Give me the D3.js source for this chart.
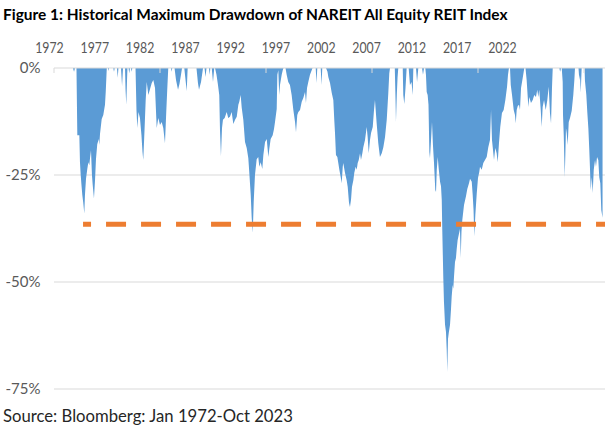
<!DOCTYPE html>
<html><head><meta charset="utf-8">
<script src="https://cdn.jsdelivr.net/npm/d3@7"></script>
<style>html,body{margin:0;padding:0;background:#fff;} svg{display:block;}</style>
</head><body>
<svg id="chart" width="605" height="439"></svg>
<script>
// decimal-year dates of the drawdown series
const dates = [
1972.00, 1973.79, 1973.89, 1973.98, 1974.12, 1974.20, 1974.39, 1974.45, 1974.52, 1974.59,
1974.67, 1974.76, 1974.86, 1974.92, 1975.02, 1975.14, 1975.24, 1975.33, 1975.40, 1975.49,
1975.58, 1975.65, 1975.77, 1975.87, 1975.96, 1976.08, 1976.22, 1976.27, 1976.34, 1976.50,
1976.65, 1976.81, 1976.88, 1976.93, 1976.98, 1977.09, 1977.14, 1977.19, 1977.59, 1977.66,
1977.73, 1977.94, 1978.01, 1978.08, 1978.32, 1978.42, 1978.51, 1978.70, 1978.75, 1978.82,
1978.89, 1978.93, 1979.03, 1979.10, 1979.17, 1979.26, 1979.33, 1979.39, 1979.69, 1979.78,
1979.86, 1979.97, 1980.11, 1980.25, 1980.35, 1980.42, 1980.54, 1980.65, 1980.75, 1980.90,
1981.06, 1981.22, 1981.37, 1981.53, 1981.69, 1981.84, 1982.00, 1982.16, 1982.31, 1982.47,
1982.59, 1982.69, 1982.78, 1983.04, 1983.10, 1983.16, 1983.37, 1983.51, 1983.70, 1983.84,
1983.98, 1984.08, 1984.29, 1984.41, 1984.52, 1984.61, 1985.44, 1985.58, 1985.68, 1985.87,
1986.06, 1986.20, 1986.29, 1986.39, 1986.62, 1986.69, 1986.75, 1986.88, 1987.00, 1987.12,
1987.19, 1987.33, 1987.47, 1987.59, 1987.66, 1987.75, 1987.85, 1987.94, 1988.10, 1988.29,
1988.44, 1988.60, 1988.76, 1988.92, 1989.08, 1989.24, 1989.39, 1989.48, 1989.61, 1989.71,
1989.86, 1990.02, 1990.18, 1990.33, 1990.42, 1990.56, 1990.65, 1990.75, 1990.84, 1990.96,
1991.12, 1991.27, 1991.37, 1991.50, 1991.65, 1991.75, 1991.91, 1992.07, 1992.22, 1992.31,
1992.44, 1992.63, 1992.75, 1992.85, 1993.01, 1993.07, 1993.16, 1993.25, 1993.32, 1993.48,
1993.58, 1993.65, 1993.84, 1993.95, 1994.10, 1994.26, 1994.42, 1994.58, 1994.74, 1994.83,
1994.95, 1995.05, 1995.21, 1995.37, 1995.52, 1995.68, 1995.77, 1995.87, 1995.99, 1996.15,
1996.31, 1996.39, 1996.69, 1996.76, 1996.84, 1997.16, 1997.24, 1997.31, 1997.66, 1997.80,
1997.88, 1998.04, 1998.20, 1998.35, 1998.44, 1998.51, 1998.60, 1998.73, 1998.82, 1998.92,
1999.05, 1999.14, 1999.24, 1999.29, 1999.45, 1999.61, 1999.71, 1999.83, 1999.92, 2000.02,
2000.11, 2000.24, 2000.33, 2000.46, 2000.56, 2000.65, 2000.75, 2000.87, 2000.96, 2001.09,
2001.18, 2001.34, 2001.50, 2001.59, 2001.69, 2001.81, 2001.91, 2002.07, 2002.19, 2002.28,
2002.44, 2002.59, 2002.75, 2002.92, 2003.07, 2003.23, 2003.39, 2003.54, 2003.63, 2003.70,
2004.15, 2004.22, 2004.26, 2004.34, 2004.41, 2004.48, 2004.90, 2004.95, 2005.05, 2005.16,
2005.27, 2005.46, 2005.58, 2005.73, 2005.84, 2005.90, 2006.15, 2006.25, 2006.37, 2006.72,
2006.81, 2006.91, 2007.03, 2007.09, 2007.16, 2007.25, 2007.33, 2007.41, 2007.47, 2007.57,
2007.66, 2007.75, 2007.85, 2007.97, 2008.04, 2008.11, 2008.20, 2008.29, 2008.42, 2008.51,
2008.58, 2008.63, 2008.73, 2008.79, 2008.89, 2008.98, 2009.05, 2009.10, 2009.17, 2009.24,
2009.36, 2009.45, 2009.52, 2009.61, 2009.67, 2009.74, 2009.83, 2009.92, 2009.99, 2010.08,
2010.18, 2010.30, 2010.37, 2010.44, 2010.52, 2010.68, 2010.87, 2010.99, 2011.15, 2011.25,
2011.41, 2011.50, 2011.58, 2011.65, 2011.75, 2011.88, 2012.00, 2012.12, 2012.19, 2012.35,
2012.50, 2012.66, 2012.82, 2012.97, 2013.13, 2013.23, 2013.32, 2013.51, 2013.63, 2013.76,
2013.86, 2013.98, 2014.10, 2014.26, 2014.42, 2014.58, 2014.74, 2014.83, 2014.92, 2015.02,
2015.09, 2015.21, 2015.37, 2015.49, 2015.56, 2015.65, 2015.75, 2015.87, 2015.96, 2016.06,
2016.22, 2016.37, 2016.48, 2016.59, 2016.75, 2016.84, 2017.00, 2017.16, 2017.31, 2017.47,
2017.59, 2017.69, 2017.78, 2017.92, 2018.01, 2018.10, 2018.23, 2018.39, 2018.54, 2018.67,
2018.79, 2018.89, 2018.98, 2019.05, 2019.67, 2019.75, 2019.83, 2019.90, 2019.99, 2020.02,
2020.09, 2020.18, 2020.24, 2020.30, 2020.37, 2020.46, 2020.56, 2020.68, 2020.84, 2020.99,
2021.09, 2021.15, 2021.48, 2021.56, 2021.62, 2021.69, 2021.78, 2022.05, 2022.09, 2022.22,
2022.31, 2022.41, 2022.50, 2022.57, 2022.63, 2022.73, 2022.82, 2022.92, 2023.04, 2023.13,
2023.23, 2023.35, 2023.44, 2023.54, 2023.63, 2023.75
];
// drawdown in percent, same order as dates
const drawdown = [
0, 0, -0.9, 0, 0, -15.7, -15.7, -22.0, -25.0, -27.3,
-29.7, -31.5, -34.0, -29.7, -25.9, -23.6, -22.0, -22.7, -21.0, -19.2,
-25.0, -27.3, -30.5, -26.2, -21.3, -17.8, -16.6, -18.0, -15.4, -11.9,
-11.0, -8.6, -5.6, -2.8, 0, 0, -0.7, 0, 0, -0.9,
0, 0, -2.3, 0, 0, -4.2, 0, 0, -5.1, -8.6,
-2.8, 0, 0, -1.2, 0, 0, -0.9, 0, 0, -9.8,
-14.0, -10.3, -11.7, -15.7, -19.6, -21.5, -14.5, -7.5, -3.3, -6.3,
-4.9, -3.5, -2.8, -4.7, -14.0, -11.7, -13.3, -12.6, -14.0, -17.6,
-10.3, -4.7, 0, 0, -0.9, 0, 0, -2.8, -5.1, -3.7,
-1.6, 0, 0, -2.8, -5.4, 0, 0, -3.5, -5.1, -3.3,
0, 0, -2.1, 0, 0, -1.6, 0, 0, -3.3, 0,
0, -1.6, -4.0, -6.3, -14.5, -20.6, -14.0, -12.1, -11.7, -10.3,
-11.7, -11.4, -10.3, -13.1, -12.1, -11.4, -8.6, -7.9, -6.3, -9.3,
-12.1, -17.3, -18.7, -21.0, -24.3, -29.7, -35.0, -38.5, -31.3, -25.0,
-21.3, -20.8, -23.1, -22.0, -23.6, -20.3, -17.3, -16.6, -20.8, -18.9,
-16.6, -15.7, -14.3, -12.6, -9.6, -1.6, -0.5, -6.3, -4.0, -1.6,
-0.5, 0, 0, -1.6, -3.3, -4.0, -6.3, -9.8, -12.6, -15.0,
-11.0, -10.3, -9.8, -7.9, -7.0, -5.6, -8.2, -4.7, -3.3, -1.6,
-0.5, 0, 0, -3.5, 0, 0, -4.0, 0, 0, -0.9,
-2.1, -3.5, -5.8, -7.5, -12.1, -15.2, -20.3, -20.8, -22.2, -23.8,
-25.5, -26.9, -23.1, -22.2, -24.5, -26.2, -27.8, -31.5, -32.5, -30.8,
-27.8, -26.2, -24.5, -23.1, -23.8, -22.2, -21.5, -19.9, -21.5, -19.9,
-18.5, -16.8, -13.8, -16.1, -19.9, -16.8, -15.2, -13.8, -9.8, -7.5,
-12.9, -17.5, -20.8, -19.9, -18.5, -16.1, -12.1, -5.8, -1.2, 0,
0, -7.5, -12.6, -6.3, -2.3, 0, 0, -6.3, -8.4, -4.7,
0, 0, -4.0, -3.3, -6.3, 0, 0, -3.3, 0, 0,
-1.6, 0, 0, -1.6, -5.6, -6.3, -8.6, -19.6, -21.0, -16.8,
-12.6, -18.0, -22.2, -28.5, -29.0, -23.8, -20.8, -23.4, -26.6, -27.6,
-30.8, -37.9, -49.3, -54.7, -60.0, -61.7, -65.9, -71.0, -63.3, -61.9,
-60.0, -56.5, -53.3, -50.7, -51.6, -48.6, -45.3, -44.4, -42.3, -40.2,
-39.0, -37.6, -44.4, -38.3, -35.5, -32.0, -29.9, -28.3, -26.9, -25.9,
-26.6, -29.7, -33.2, -39.3, -34.3, -29.4, -25.7, -24.3, -23.1, -23.8,
-22.2, -21.5, -20.8, -18.5, -16.8, -9.8, -16.8, -21.5, -18.7, -19.9,
-22.0, -17.5, -13.8, -10.5, -9.8, -7.5, -4.4, -1.6, 0, 0,
-4.0, -6.3, -9.8, -11.0, -12.9, -9.8, -8.9, -8.6, -9.8, -4.7,
-2.3, 0, 0, -2.8, -9.1, -6.8, -8.2, -7.5, -6.3, -6.8,
-5.1, -6.8, -5.1, -9.8, -13.8, -9.1, -7.5, -9.8, -7.5, -4.4,
-10.5, -12.9, -4.7, 0, 0, -0.9, 0, 0, -3.3, -11.0,
-15.7, -25.5, -20.3, -14.0, -15.2, -18.0, -12.6, -11.7, -10.0, -6.3,
-2.8, 0, 0, -2.8, -1.6, -5.8, 0, 0, -3.0, -6.3,
-10.3, -14.0, -19.2, -23.8, -28.5, -25.5, -29.2, -23.8, -21.5, -23.1,
-20.8, -21.5, -25.5, -26.9, -33.2, -35.0
];
const yearLabels = ['1972','1977','1982','1987','1992','1997','2002','2007','2012','2017','2022'];
const yTicks = [0, -25, -50, -75];
const majorTickYears = [1972, 1982, 1992, 2002, 2012, 2022];
const refLevel = -36.5;              // orange dashed reference level (%)
const refSpan = [1974.74, 2024.0];   // years covered by the reference line
const titleText = 'Figure 1: Historical Maximum Drawdown of NAREIT All Equity REIT Index';
const sourceText = 'Source: Bloomberg: Jan 1972-Oct 2023';

const FONT = 'Lato, "Open Sans", sans-serif';
const svg = d3.select('#chart');

const n = Math.min(dates.length, drawdown.length);
const series = d3.range(n).map(i => ({ t: dates[i], v: drawdown[i] }));

const x = d3.scaleLinear().domain([1972, 2024]).range([54, 605.2]);
const y = d3.scaleLinear().domain([0, -75]).range([68, 389]);

function fit(sel, target) {
  const node = sel.node();
  const fs = parseFloat(sel.attr('font-size'));
  const w = node.getComputedTextLength();
  if (w > 0) sel.attr('font-size', (fs * target / w).toFixed(2));
}

// gridlines (below the area)
svg.append('g').selectAll('line').data(yTicks.filter(d => d !== 0)).join('line')
  .attr('x1', 54).attr('x2', 605)
  .attr('y1', d => y(d)).attr('y2', d => y(d))
  .attr('stroke', '#d9d9d9').attr('stroke-width', 1.2);

// area
const area = d3.area().x(d => x(d.t)).y0(y(0)).y1(d => y(d.v));
svg.append('path').datum(series)
  .attr('d', area)
  .attr('fill', '#5b9bd5');

// zero axis line + tick marks on top
svg.append('line')
  .attr('x1', 54).attr('x2', 605).attr('y1', y(0)).attr('y2', y(0))
  .attr('stroke', '#d9d9d9').attr('stroke-width', 1.2);
svg.append('g').selectAll('line').data(majorTickYears).join('line')
  .attr('x1', d => x(d)).attr('x2', d => x(d))
  .attr('y1', y(0)).attr('y2', y(0) + 5)
  .attr('stroke', '#d9d9d9').attr('stroke-width', 1);

// reference dashed line
const refData = refSpan.map(t => ({ t, v: refLevel }));
svg.append('path').datum(refData)
  .attr('d', d3.line().x(d => x(d.t)).y(d => y(d.v)))
  .attr('fill', 'none')
  .attr('stroke', '#ed7d31').attr('stroke-width', 5)
  .attr('stroke-dasharray', '20,15').attr('stroke-dashoffset', 12);

// top year labels
const xLab = d3.scalePoint().domain(yearLabels).range([49, 502]);
const gx = svg.append('g').attr('transform', 'translate(0,52.5)')
  .call(d3.axisTop(xLab).tickSize(0).tickPadding(0));
gx.select('.domain').remove();
gx.selectAll('text')
  .style('font-family', FONT).style('font-size', '15px')
  .attr('fill', '#595959')
  .attr('textLength', 28.5).attr('lengthAdjust', 'spacingAndGlyphs');

// left value labels
const gy = svg.append('g').attr('transform', 'translate(40.5,0)')
  .call(d3.axisLeft(y).tickValues(yTicks).tickFormat(d => d + '%').tickSize(0).tickPadding(0));
gy.select('.domain').remove();
gy.selectAll('text')
  .style('font-family', FONT).style('font-size', '15px')
  .attr('fill', '#595959');

// title
const title = svg.append('text')
  .attr('x', 3).attr('y', 20)
  .attr('font-family', FONT).attr('font-weight', 'bold').attr('font-size', 18)
  .attr('fill', '#000').text(titleText);
fit(title, 505);

// source
const src = svg.append('text')
  .attr('x', 3).attr('y', 422)
  .attr('font-family', FONT).attr('font-size', 15)
  .attr('fill', '#262626').text(sourceText);
fit(src, 290);
</script>
</body></html>
